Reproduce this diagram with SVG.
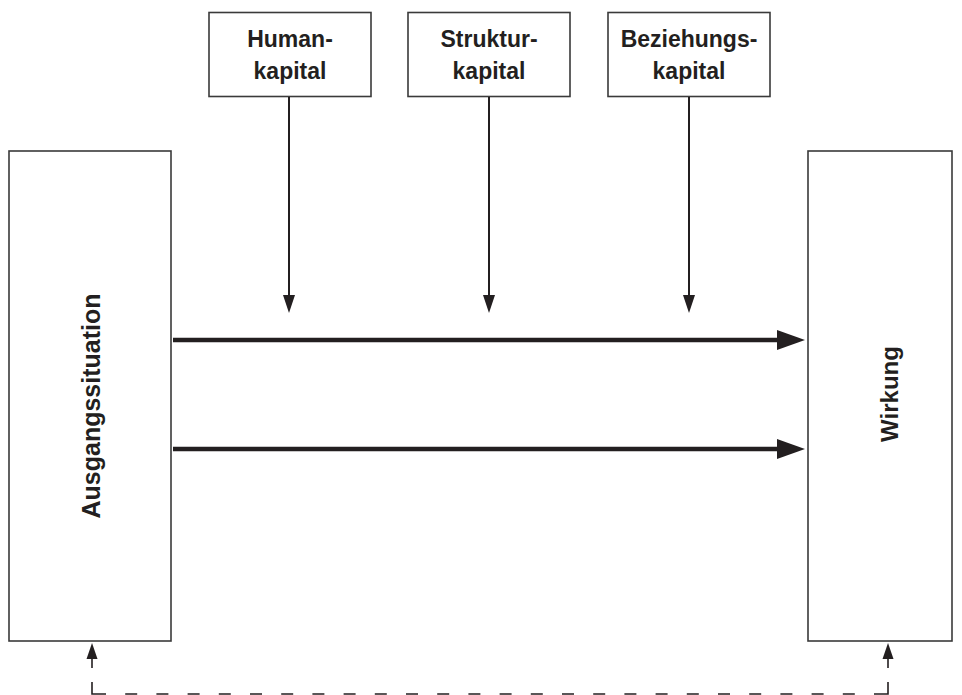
<svg xmlns="http://www.w3.org/2000/svg" width="962" height="695" viewBox="0 0 962 695">
  <style>
    .box { fill: #ffffff; stroke: #3a3a3a; stroke-width: 1.6; }
    .lbl { font-family: "Liberation Sans", Arial, sans-serif; font-weight: bold; font-size: 23px; fill: #231f20; text-anchor: middle; }
    .vlbl { font-family: "Liberation Sans", Arial, sans-serif; font-weight: bold; font-size: 24px; fill: #231f20; text-anchor: middle; }
    .feed { stroke: #231f20; stroke-width: 2; fill: none; }
    .flow { stroke: #231f20; stroke-width: 4.5; fill: none; }
    .back { stroke: #231f20; stroke-width: 1.6; fill: none; }
    .head { fill: #231f20; }
  </style>

  <!-- top: capital boxes -->
  <g id="humankapital">
    <rect class="box" x="209" y="12.5" width="162" height="84"/>
    <text class="lbl" x="290" y="47">Human-</text>
    <text class="lbl" x="290" y="79">kapital</text>
  </g>
  <g id="strukturkapital">
    <rect class="box" x="408" y="12.5" width="162" height="84"/>
    <text class="lbl" x="489" y="47">Struktur-</text>
    <text class="lbl" x="489" y="79">kapital</text>
  </g>
  <g id="beziehungskapital">
    <rect class="box" x="608" y="12.5" width="162" height="84"/>
    <text class="lbl" x="689" y="47">Beziehungs-</text>
    <text class="lbl" x="689" y="79">kapital</text>
  </g>

  <!-- side columns -->
  <g id="ausgangssituation">
    <rect class="box" x="9" y="151" width="162" height="490"/>
    <text class="vlbl" style="font-size:25px" transform="translate(100 406) rotate(-90)">Ausgangssituation</text>
  </g>
  <g id="wirkung">
    <rect class="box" x="808" y="151" width="144" height="490"/>
    <text class="vlbl" transform="translate(898 394) rotate(-90)">Wirkung</text>
  </g>

  <!-- connectors -->
  <g id="connectors">
    <!-- capital inputs -->
    <line class="feed" x1="289" y1="97" x2="289" y2="298"/>
    <polygon class="head" points="283,295 295,295 289,313"/>
    <line class="feed" x1="489" y1="97" x2="489" y2="298"/>
    <polygon class="head" points="483,295 495,295 489,313"/>
    <line class="feed" x1="689" y1="97" x2="689" y2="298"/>
    <polygon class="head" points="683,295 695,295 689,313"/>

    <!-- main flows -->
    <line class="flow" x1="173" y1="340" x2="780" y2="340"/>
    <polygon class="head" points="777,330 777,350 805,340"/>
    <line class="flow" x1="173" y1="449" x2="780" y2="449"/>
    <polygon class="head" points="777,439 777,459 805,449"/>

    <!-- feedback loop -->
    <line class="back" x1="92" y1="657" x2="92" y2="668"/>
    <polygon class="head" points="86.5,659 97.5,659 92,643"/>
    <line class="back" x1="888" y1="657" x2="888" y2="668"/>
    <polygon class="head" points="882.5,659 893.5,659 888,643"/>
    <path class="back" d="M92 682 V694 H106"/>
    <path class="back" d="M888 682 V694 H874"/>
    <line class="back" x1="125.2" y1="694" x2="854.8" y2="694" stroke-dasharray="12 19.2"/>
  </g>
</svg>
